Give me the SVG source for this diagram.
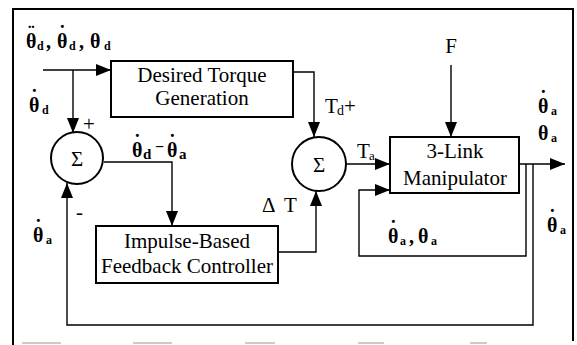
<svg xmlns="http://www.w3.org/2000/svg" width="577" height="345" viewBox="0 0 577 345">
<defs>
<marker id="ah" markerWidth="15" markerHeight="12" refX="15" refY="6" orient="auto" markerUnits="userSpaceOnUse"><path d="M0,0 L15,6 L0,12 Z" fill="#000"/></marker>
</defs>
<style>
.ln{fill:none;stroke:#000;stroke-width:1.4}
.fr{fill:none;stroke:#000;stroke-width:2}
.box{fill:#fff;stroke:#000;stroke-width:2}
.t{font-family:"Liberation Serif","Times New Roman",serif;font-size:21px;fill:#000}
.m{font-family:"Liberation Serif","Times New Roman",serif;font-weight:bold;font-size:20px;fill:#000}
.s{font-size:12px}
</style>
<g id="frame">
<path class="fr" d="M13,345 L13,9 L573,9 L573,341"/>
<path d="M22,343 H61 M133,343 H172 M245,343 H275 M358,343 H384 M470,343 H487" stroke="#bbb" stroke-width="1.5"/>
</g>
<g id="connectors" class="ln">
<path d="M43,70 L111,70" marker-end="url(#ah)"/>
<path d="M73,70 L73,133" marker-end="url(#ah)"/>
<path d="M104,162 L172,162 L172,226" marker-end="url(#ah)"/>
<path d="M293,72 L314,72 L314,137" marker-end="url(#ah)"/>
<path d="M278,252 L316,252 L316,191" marker-end="url(#ah)"/>
<path d="M346,164 L390,164" marker-end="url(#ah)"/>
<path d="M451,65 L451,137" marker-end="url(#ah)"/>
<path d="M519,164 L565,164" marker-end="url(#ah)"/>
<path d="M526,164 L526,256 L359,256 L359,190 L390,190" marker-end="url(#ah)"/>
<path d="M533,164 L533,325 L67,325 L67,183" marker-end="url(#ah)"/>
</g>
<g id="desired-torque">
<rect class="box" x="111" y="61" width="182" height="56"/>
<text class="t" x="202" y="82" text-anchor="middle">Desired Torque</text>
<text class="t" x="202" y="105" text-anchor="middle">Generation</text>
</g>
<g id="sum1">
<circle cx="77" cy="158" r="26" fill="#fff" stroke="#000" stroke-width="2"/>
<text class="t" x="77" y="166" text-anchor="middle" font-size="20">Σ</text>
</g>
<g id="sum2">
<circle cx="319" cy="164" r="27" fill="#fff" stroke="#000" stroke-width="2"/>
<text class="t" x="319" y="172" text-anchor="middle" font-size="20">Σ</text>
</g>
<g id="impulse-controller">
<rect class="box" x="96" y="226" width="182" height="57"/>
<text class="t" x="187" y="248" text-anchor="middle">Impulse-Based</text>
<text class="t" x="187" y="273" text-anchor="middle">Feedback Controller</text>
</g>
<g id="manipulator">
<rect class="box" x="390" y="137" width="129" height="56"/>
<text class="t" x="455" y="158" text-anchor="middle">3-Link</text>
<text class="t" x="455" y="185" text-anchor="middle">Manipulator</text>
</g>
<g id="labels">
<text class="m"><tspan x="28" y="40">¨</tspan><tspan x="26" y="48">θ</tspan><tspan class="s" x="37" y="50">d</tspan><tspan x="46" y="48">,</tspan><tspan x="59" y="40">˙</tspan><tspan x="57" y="48">θ</tspan><tspan class="s" x="69" y="50">d</tspan><tspan x="79" y="48">,</tspan><tspan x="90" y="48">θ</tspan><tspan class="s" x="104" y="50">d</tspan></text>
<text class="m"><tspan x="31" y="104">˙</tspan><tspan x="29" y="112">θ</tspan><tspan class="s" x="42" y="114">d</tspan></text>
<text class="t" x="83" y="131" font-size="20">+</text>
<text class="m"><tspan x="134" y="149">˙</tspan><tspan x="132" y="157">θ</tspan><tspan x="143" y="159" font-size="15">d</tspan><tspan x="155" y="152" font-size="16">−</tspan><tspan x="169" y="149">˙</tspan><tspan x="167" y="157">θ</tspan><tspan x="179" y="159" font-size="15">a</tspan></text>
<text class="t" x="76" y="219" font-size="20">-</text>
<text class="m"><tspan x="35" y="234">˙</tspan><tspan x="33" y="242">θ</tspan><tspan class="s" x="46" y="244">a</tspan></text>
<text class="t" font-size="20"><tspan x="325" y="113">T</tspan><tspan x="337" y="115" font-size="14">d</tspan><tspan x="344" y="113">+</tspan></text>
<text class="t" font-size="20"><tspan x="357" y="158">T</tspan><tspan x="369" y="160" font-size="13">a</tspan></text>
<text class="t" font-size="20"><tspan x="262" y="212">Δ</tspan><tspan x="284" y="212">T</tspan></text>
<text class="t" x="451" y="53" text-anchor="middle" font-size="23">F</text>
<text class="m"><tspan x="540" y="105">˙</tspan><tspan x="538" y="113">θ</tspan><tspan class="s" x="551" y="115">a</tspan></text>
<text class="m"><tspan x="538" y="140">θ</tspan><tspan class="s" x="551" y="142">a</tspan></text>
<text class="m"><tspan x="549" y="224">˙</tspan><tspan x="547" y="232">θ</tspan><tspan class="s" x="560" y="234">a</tspan></text>
<text class="m"><tspan x="390" y="235">˙</tspan><tspan x="388" y="243">θ</tspan><tspan class="s" x="400" y="245">a</tspan><tspan x="409" y="243">,</tspan><tspan x="418" y="243">θ</tspan><tspan class="s" x="431" y="245">a</tspan></text>
</g>
</svg>
